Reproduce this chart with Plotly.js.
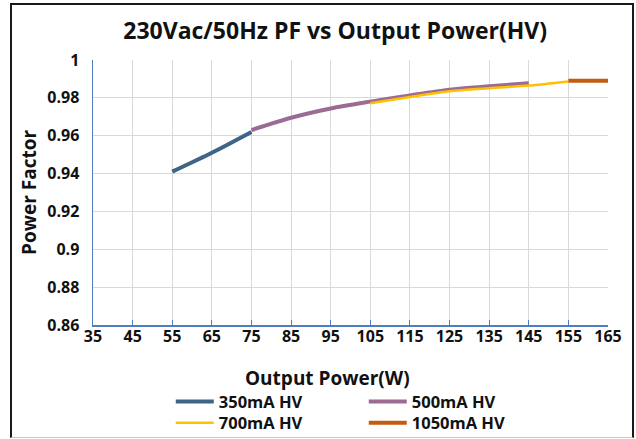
<!DOCTYPE html>
<html>
<head>
<meta charset="utf-8">
<script src="https://cdn.plot.ly/plotly-3.0.1.min.js"></script>
<style>
  html, body { margin: 0; padding: 0; background: #fff; }
  #wrap { position: relative; width: 636px; height: 439px; }
  #frame { position: absolute; left: 10px; top: 3px; width: 620px; height: 432px;
           border-left: 2px solid #1a1a1a; border-right: 2px solid #1a1a1a; border-top: 2px solid #1a1a1a;
           border-bottom: 1px solid #c8c8c8; pointer-events: none; z-index: 5; }
  #chart { position: absolute; left: 0; top: 0; width: 636px; height: 439px; }
</style>
</head>
<body>
<div id="wrap">
  <div id="chart"></div>
  <div id="frame"></div>
</div>
<script>
const seriesNames = ['350mA HV', '500mA HV', '700mA HV', '1050mA HV'];
const x350 = [55, 65, 75];
const y350 = [0.941, 0.951, 0.962];
const x500 = [75, 85, 95, 105, 115, 125, 135, 145];
const y500 = [0.963, 0.9695, 0.9744, 0.978, 0.9813, 0.9843, 0.9861, 0.9877];
const x700 = [105, 115, 125, 135, 145, 155];
const y700 = [0.9772, 0.9805, 0.9835, 0.9851, 0.9865, 0.9887];
const x1050 = [155, 165];
const y1050 = [0.9891, 0.9891];
const xTicks = [35, 45, 55, 65, 75, 85, 95, 105, 115, 125, 135, 145, 155, 165];
const yTicks = [0.86, 0.88, 0.9, 0.92, 0.94, 0.96, 0.98, 1];
const yTickText = ['0.86', '0.88', '0.9', '0.92', '0.94', '0.96', '0.98', '1'];
const xTitle = 'Output Power(W)';
const yTitle = 'Power Factor';
const chartTitle = '230Vac/50Hz PF vs Output Power(HV)';

const colors = ['#3e6587', '#9c6b94', '#ffc000', '#c55a11'];
const widths = [4, 4, 2.5, 4];
const legendOf = ['legend', 'legend', 'legend2', 'legend2'];
const xs = [x350, x500, x700, x1050];
const ys = [y350, y500, y700, y1050];

const traces = seriesNames.map((n, i) => ({
  type: 'scatter', mode: 'lines', name: n,
  x: xs[i], y: ys[i], legend: legendOf[i],
  line: { color: colors[i], width: widths[i], shape: 'spline', smoothing: 0.8 }
}));

const FF = 'Open Sans, sans-serif';
const legendFont = { family: FF, size: 16.5, color: '#111', weight: 'bold' };
const legendBase = {
  orientation: 'h', x: 0.151, xanchor: 'left', yanchor: 'middle',
  entrywidth: 140, entrywidthmode: 'pixels', traceorder: 'normal',
  font: legendFont, itemwidth: 38, bgcolor: 'rgba(0,0,0,0)', borderwidth: 0
};

const layout = {
  width: 636, height: 439,
  margin: { l: 93, r: 28, t: 60, b: 114, autoexpand: false },
  paper_bgcolor: 'rgba(0,0,0,0)', plot_bgcolor: '#fff',
  title: { text: '<b>' + chartTitle + '</b>', x: 0.527, xanchor: 'center', y: 0.93, yanchor: 'middle',
           font: { family: FF, size: 23, color: '#111' } },
  xaxis: {
    range: [35, 165], tickvals: xTicks, ticktext: xTicks.map(String),
    showgrid: true, gridcolor: '#d9d9d9', gridwidth: 1,
    showline: true, linecolor: '#4f7bbf', linewidth: 1.5,
    ticks: 'inside', ticklen: 5, tickcolor: '#4f7bbf', tickwidth: 1, ticklabelstandoff: -4,
    tickfont: { family: FF, size: 16, color: '#111', weight: 'bold' },
    zeroline: false
  },
  yaxis: {
    range: [0.86, 1], tickvals: yTicks, ticktext: yTickText,
    showgrid: true, gridcolor: '#d9d9d9', gridwidth: 1,
    showline: true, linecolor: '#4f7bbf', linewidth: 1.5,
    ticks: '', ticklabelstandoff: 9,
    tickfont: { family: FF, size: 16, color: '#111', weight: 'bold' },
    zeroline: false,
    title: { text: '<b>' + yTitle + '</b>', standoff: 5, font: { family: FF, size: 19, color: '#111' } }
  },
  annotations: [{
    text: '<b>' + xTitle + '</b>', xref: 'paper', yref: 'paper',
    x: 0.456, y: -0.2, xanchor: 'center', yanchor: 'middle', showarrow: false,
    font: { family: FF, size: 19, color: '#111' }
  }],
  showlegend: true,
  legend: Object.assign({}, legendBase, { y: -0.29 }),
  legend2: Object.assign({}, legendBase, { y: -0.37 })
};

Plotly.newPlot('chart', traces, layout, { displayModeBar: false, staticPlot: true });
</script>
</body>
</html>
